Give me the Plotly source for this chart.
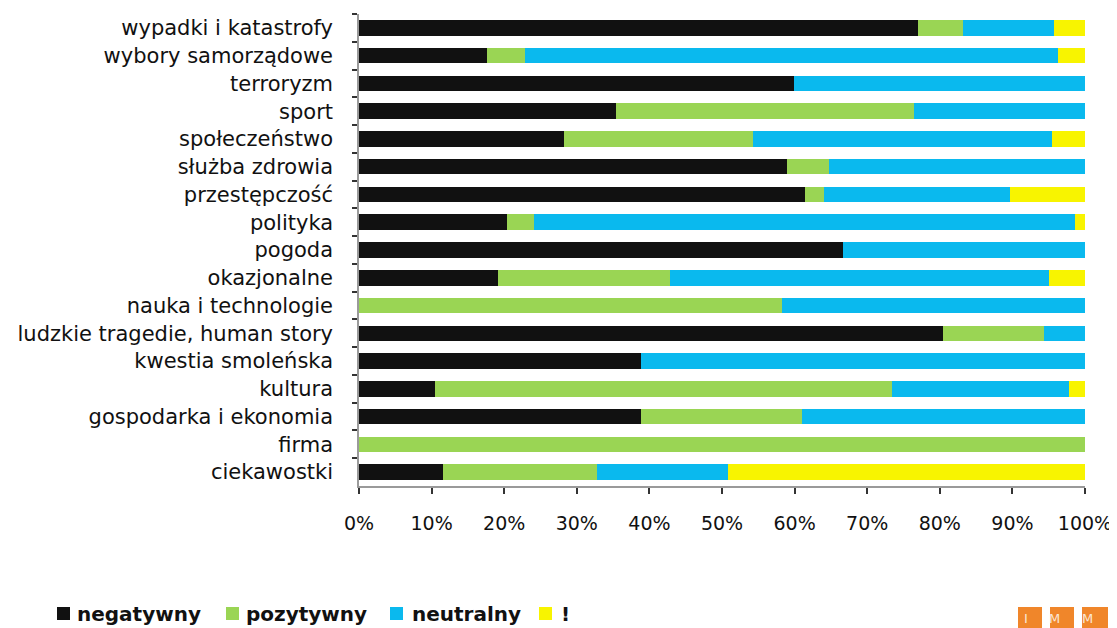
import plotly.graph_objects as go

categories = [
    "wypadki i katastrofy", "wybory samorządowe", "terroryzm", "sport",
    "społeczeństwo", "służba zdrowia", "przestępczość", "polityka", "pogoda",
    "okazjonalne", "nauka i technologie", "ludzkie tragedie, human story",
    "kwestia smoleńska", "kultura", "gospodarka i ekonomia", "firma", "ciekawostki",
]
negatywny = [77.0, 17.6, 59.9, 35.4, 28.3, 58.9, 61.4, 20.4, 66.6,
             19.1, 0.0, 80.4, 38.9, 10.4, 38.9, 0.0, 11.6]
pozytywny = [6.2, 5.3, 0.0, 41.0, 26.0, 5.8, 2.7, 3.7, 0.0,
             23.7, 58.3, 13.9, 0.0, 63.0, 22.1, 100.0, 21.2]
neutralny = [12.5, 73.4, 40.1, 23.6, 41.2, 35.3, 25.5, 74.5, 33.4,
             52.3, 41.7, 5.7, 61.1, 24.4, 39.0, 0.0, 18.0]
wykrzyknik = [4.3, 3.7, 0.0, 0.0, 4.5, 0.0, 10.4, 1.4, 0.0,
              4.9, 0.0, 0.0, 0.0, 2.2, 0.0, 0.0, 49.2]
series_names = ["negatywny", "pozytywny", "neutralny", "!"]
series_colors = ["#111111", "#9ad554", "#0ab9ee", "#f8f400"]
x_ticks = [0, 10, 20, 30, 40, 50, 60, 70, 80, 90, 100]
x_tick_labels = [f"{t}%" for t in x_ticks]

FONT = "DejaVu Sans"
W, H = 1117, 628
L, R, T, B = 351, 40, 6, 150
PW, PH = W - L - R, H - T - B


def px(x):
    return (x - L) / PW


def py(y):
    return (H - B - y) / PH


fig = go.Figure()
for name, vals, col in zip(series_names, [negatywny, pozytywny, neutralny, wykrzyknik], series_colors):
    fig.add_trace(go.Bar(
        y=categories, x=vals, name=name, orientation="h",
        marker=dict(color=col, line=dict(width=0)),
        showlegend=False,
    ))

fig.update_layout(
    barmode="stack",
    bargap=0.44,
    width=W, height=H,
    margin=dict(l=L, r=R, t=T, b=B),
    paper_bgcolor="white", plot_bgcolor="white",
    font=dict(family=FONT, color="#111111"),
    xaxis=dict(
        range=[0, 100], tickvals=x_ticks, ticktext=x_tick_labels,
        showgrid=False, zeroline=False, showline=True, linecolor="#9a9a9a", linewidth=1.5,
        ticks="outside", ticklen=6, tickcolor="#333333", tickwidth=1.5,
        tickfont=dict(family=FONT, size=19, color="#111111"), ticklabelstandoff=13,
    ),
    yaxis=dict(
        autorange="reversed", showgrid=False, showline=True, linecolor="#9a9a9a", linewidth=1.5,
        ticks="outside", tickson="boundaries", ticklen=5, tickcolor="#333333", tickwidth=1.5,
        tickfont=dict(family=FONT, size=21, color="#111111"), ticklabelstandoff=20,
    ),
)

# legend (squares + bold labels)
sq_left = [49, 218, 382, 531]
txt_left = [67, 236, 402, 551]
for name, col, sx, tx in zip(series_names, series_colors, sq_left, txt_left):
    fig.add_shape(type="rect", xref="paper", yref="paper",
                  x0=px(sx), x1=px(sx + 13), y0=py(612), y1=py(599),
                  fillcolor=col, line=dict(width=0))
    fig.add_annotation(xref="paper", yref="paper", x=px(tx), y=py(605.5),
                       xanchor="left", yanchor="middle", showarrow=False,
                       text=f"<b>{name}</b>",
                       font=dict(family=FONT, size=20, color="#111111"))

# IMM logo boxes (decorative)
for x0, x1, letter in [(1010, 1034, "I"), (1042, 1066, "M"), (1074, 1100, "M")]:
    fig.add_shape(type="rect", xref="paper", yref="paper",
                  x0=px(x0), x1=px(x1), y0=py(630), y1=py(599),
                  fillcolor="#f0862a", line=dict(width=0), layer="above")
    fig.add_annotation(xref="paper", yref="paper", x=px((x0 + x1) / 2), y=py(610),
                       text=letter, showarrow=False, yanchor="middle",
                       font=dict(family=FONT, size=13, color="#fbe6d4"))

fig.write_html("out.html")
